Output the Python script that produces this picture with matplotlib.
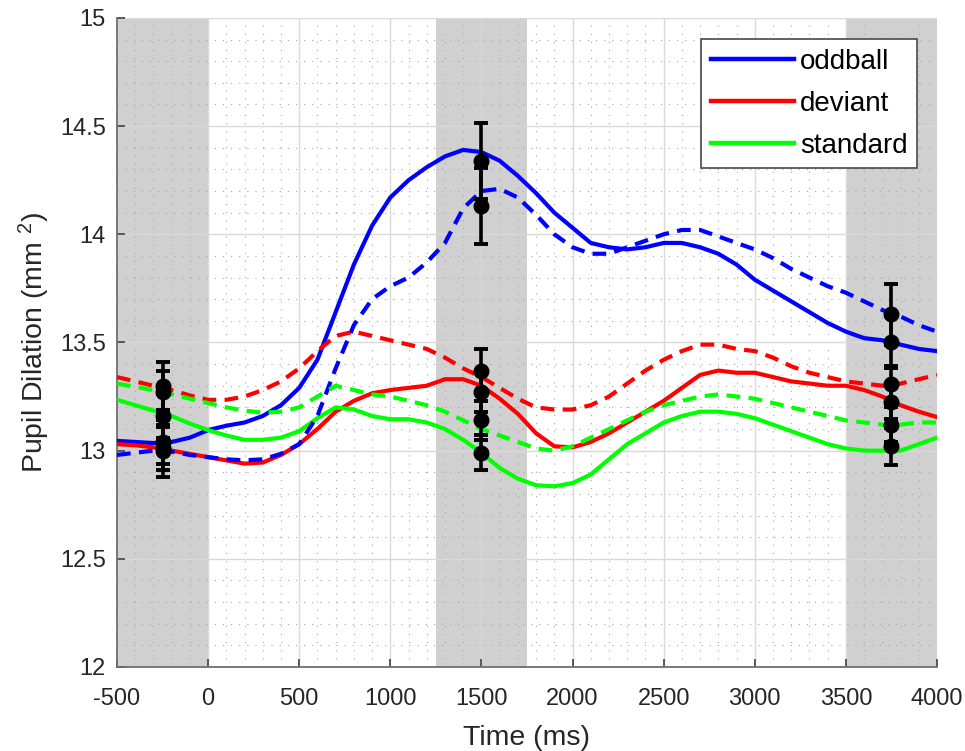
import matplotlib
matplotlib.use("Agg")
import matplotlib.pyplot as plt
from matplotlib.ticker import MultipleLocator, FuncFormatter

plt.rcParams['font.family'] = ['Liberation Sans', 'DejaVu Sans']
plt.rcParams['mathtext.fontset'] = 'custom'
plt.rcParams['mathtext.rm'] = 'Liberation Sans'
plt.rcParams['mathtext.default'] = 'regular'

time_ms = list(range(-500, 4001, 100))

oddball_solid = [13.045, 13.04, 13.035, 13.04, 13.06, 13.095, 13.115, 13.13, 13.16, 13.21,
                 13.29, 13.42, 13.64, 13.86, 14.04, 14.17, 14.25, 14.31, 14.36, 14.39,
                 14.38, 14.34, 14.27, 14.19, 14.10, 14.03, 13.96, 13.94, 13.93, 13.94,
                 13.96, 13.96, 13.94, 13.91, 13.86, 13.79, 13.74, 13.69, 13.64, 13.59,
                 13.55, 13.52, 13.51, 13.49, 13.47, 13.46]
oddball_dashed = [12.98, 12.99, 13.0, 12.995, 12.98, 12.97, 12.96, 12.955, 12.96, 12.985,
                  13.03, 13.16, 13.38, 13.58, 13.70, 13.76, 13.80, 13.87, 13.96, 14.12,
                  14.20, 14.21, 14.17, 14.09, 14.0, 13.94, 13.91, 13.91, 13.94, 13.97,
                  14.0, 14.02, 14.02, 13.99, 13.96, 13.93, 13.89, 13.84, 13.80, 13.76,
                  13.73, 13.69, 13.65, 13.62, 13.58, 13.55]
deviant_solid = [13.03, 13.025, 13.015, 13.0, 12.985, 12.97, 12.955, 12.94, 12.945, 12.98,
                 13.03, 13.10, 13.18, 13.23, 13.265, 13.28, 13.29, 13.30, 13.33, 13.33,
                 13.30, 13.24, 13.17, 13.08, 13.02, 13.015, 13.04, 13.08, 13.13, 13.18,
                 13.23, 13.29, 13.35, 13.37, 13.36, 13.36, 13.34, 13.32, 13.31, 13.30,
                 13.30, 13.28, 13.25, 13.21, 13.18, 13.155]
deviant_dashed = [13.34, 13.32, 13.30, 13.28, 13.255, 13.235, 13.235, 13.25, 13.28, 13.32,
                  13.38, 13.46, 13.53, 13.55, 13.53, 13.51, 13.49, 13.47, 13.43, 13.38,
                  13.34, 13.29, 13.24, 13.20, 13.19, 13.19, 13.21, 13.25, 13.31, 13.37,
                  13.42, 13.46, 13.49, 13.49, 13.47, 13.46, 13.43, 13.39, 13.36, 13.34,
                  13.32, 13.31, 13.30, 13.31, 13.33, 13.35]
standard_solid = [13.235, 13.21, 13.185, 13.16, 13.125, 13.095, 13.07, 13.05, 13.05, 13.06,
                  13.09, 13.15, 13.20, 13.19, 13.16, 13.145, 13.145, 13.13, 13.10, 13.05,
                  12.99, 12.92, 12.87, 12.84, 12.835, 12.85, 12.89, 12.96, 13.03, 13.08,
                  13.13, 13.16, 13.18, 13.18, 13.17, 13.15, 13.12, 13.09, 13.06, 13.03,
                  13.01, 13.0, 13.0, 13.0, 13.03, 13.06]
standard_dashed = [13.31, 13.295, 13.28, 13.26, 13.24, 13.22, 13.20, 13.185, 13.175, 13.18,
                   13.20, 13.25, 13.30, 13.28, 13.26, 13.25, 13.23, 13.21, 13.18, 13.14,
                   13.10, 13.07, 13.04, 13.01, 13.0, 13.02, 13.06, 13.10, 13.14, 13.18,
                   13.21, 13.23, 13.25, 13.26, 13.25, 13.24, 13.22, 13.20, 13.18, 13.16,
                   13.14, 13.13, 13.12, 13.12, 13.13, 13.13]

err_x = [-250, 1500, 3750]
err_means = {
    'oddball_solid': [13.04, 14.34, 13.50],
    'oddball_dashed': [13.0, 14.13, 13.63],
    'deviant_solid': [13.01, 13.27, 13.225],
    'deviant_dashed': [13.30, 13.37, 13.31],
    'standard_solid': [13.16, 12.99, 13.02],
    'standard_dashed': [13.27, 13.14, 13.12],
}
err_sizes = {
    'oddball_solid': [0.10, 0.175, 0.12],
    'oddball_dashed': [0.12, 0.175, 0.14],
    'deviant_solid': [0.10, 0.09, 0.08],
    'deviant_dashed': [0.11, 0.10, 0.08],
    'standard_solid': [0.10, 0.08, 0.085],
    'standard_dashed': [0.10, 0.09, 0.08],
}

shade_windows = [(-500, 0), (1250, 1750), (3500, 4000)]
xticks = list(range(-500, 4001, 500))
yticks = [12, 12.5, 13, 13.5, 14, 14.5, 15]

fig = plt.figure(figsize=(9.65, 7.51), dpi=100)
ax = fig.add_axes([0.1212, 0.1119, 0.8498, 0.8642])

for a, b in shade_windows:
    ax.axvspan(a, b, color='#d0d0d0', lw=0, zorder=0.5)

lw = 3.0
dash = (3.3, 2.0)
ax.plot(time_ms, oddball_solid, color='#0000ff', lw=lw, label='oddball', zorder=3)
ax.plot(time_ms, deviant_solid, color='#ff0000', lw=lw, label='deviant', zorder=3)
ax.plot(time_ms, standard_solid, color='#00ff00', lw=lw, label='standard', zorder=3)
ax.plot(time_ms, oddball_dashed, color='#0000ff', lw=lw, ls=(0, dash), zorder=3)
ax.plot(time_ms, deviant_dashed, color='#ff0000', lw=lw, ls=(0, dash), zorder=3)
ax.plot(time_ms, standard_dashed, color='#00ff00', lw=lw, ls=(0, dash), zorder=3)

for key in err_means:
    ax.errorbar(err_x, err_means[key], yerr=err_sizes[key], fmt='o', color='black',
                ms=10.5, elinewidth=2.6, capsize=5, capthick=2.8, zorder=4)

ax.set_xlim(-500, 4000)
ax.set_ylim(12, 15)
ax.set_xticks(xticks)
ax.set_yticks(yticks)
ax.xaxis.set_minor_locator(MultipleLocator(100))
ax.yaxis.set_minor_locator(MultipleLocator(0.1))
ax.yaxis.set_major_formatter(FuncFormatter(lambda v, p: ('%g' % v)))
ax.xaxis.set_major_formatter(FuncFormatter(lambda v, p: ('%d' % v)))

ax.grid(True, which='major', color='#d9d9d9', lw=1.0, ls='-', zorder=1)
ax.grid(True, which='minor', color='#a8a8a8', lw=0.8, ls=(0, (1, 6.3)), zorder=1)

for side in ['top', 'right']:
    ax.spines[side].set_visible(False)
for side in ['left', 'bottom']:
    ax.spines[side].set_color('#6e6e6e')
    ax.spines[side].set_linewidth(1.3)

ax.tick_params(axis='both', which='major', direction='in', length=6, width=1.3,
               color='#4d4d4d', labelsize=17, labelcolor='#262626')
ax.tick_params(axis='y', which='major', pad=8)
ax.tick_params(axis='x', which='major', pad=15)
ax.tick_params(axis='both', which='minor', length=0)

ax.set_xlabel('Time (ms)', fontsize=20.5, color='#262626', labelpad=11)
ax.set_ylabel('Pupil Dilation (mm $^{2}$)', fontsize=20.5, color='#262626', labelpad=6)

leg = ax.legend(loc='upper right', bbox_to_anchor=(0.976, 0.967), borderaxespad=0,
                fontsize=20, fancybox=False, framealpha=1, edgecolor='#555555',
                handlelength=3.0, handletextpad=0.22, borderpad=0.35, labelspacing=0.57)
leg.get_frame().set_linewidth(1.3)
for line in leg.get_lines():
    line.set_linewidth(3.2)

fig.savefig('out.png', dpi=100)
